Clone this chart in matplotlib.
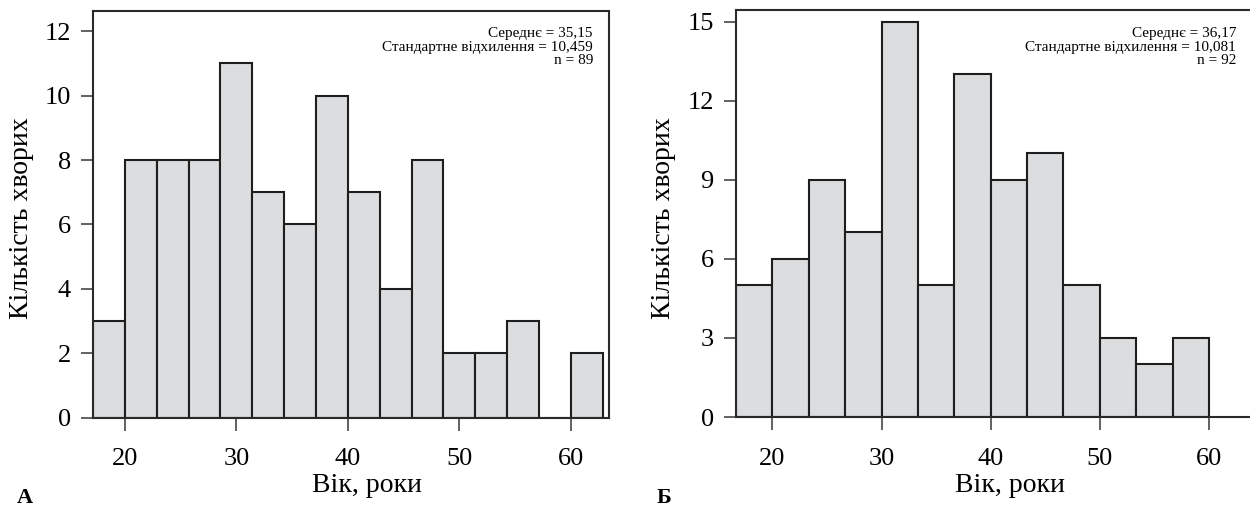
import matplotlib
matplotlib.use("Agg")
import matplotlib.pyplot as plt
import numpy as np

plt.rcParams['font.family'] = ['Liberation Serif', 'DejaVu Serif']

# Data
counts_a = [3, 8, 8, 8, 11, 7, 6, 10, 7, 4, 8, 2, 2, 3, 0, 2]
counts_b = [5, 6, 9, 7, 15, 5, 13, 9, 10, 5, 3, 2, 3]
xticks = [20, 30, 40, 50, 60]
yticks_a = [0, 2, 4, 6, 8, 10, 12]
yticks_b = [0, 3, 6, 9, 12, 15]
stats_a = ["Середнє = 35,15", "Стандартне відхилення = 10,459", "n = 89"]
stats_b = ["Середнє = 36,17", "Стандартне відхилення = 10,081", "n = 92"]
xlabel = "Вік, роки"
ylabel = "Кількість хворих"
panel_labels = ["А", "Б"]

# Bin geometry
start_a, width_a = 20 - 20 / 7, 20 / 7
start_b, width_b = 20 - 10 / 3, 10 / 3

W, H = 1250, 508
fig = plt.figure(figsize=(W / 100, H / 100), dpi=100)

def frac_rect(l, r, t, b):
    return [l / W, (H - b) / H, (r - l) / W, (b - t) / H]

ax_a = fig.add_axes(frac_rect(93, 609, 11, 417.7))
ax_b = fig.add_axes(frac_rect(736, 1250, 10.3, 417))

fill = '#dcdddf'
edge = '#1e1e1e'

def draw(ax, counts, start, width, xlim, ylim, yticks, hide_right):
    lefts = start + width * np.arange(len(counts))
    ax.bar(lefts, counts, width=width, align='edge', color=fill,
           edgecolor=edge, linewidth=1.5, zorder=2)
    ax.set_xlim(*xlim)
    ax.set_ylim(*ylim)
    ax.set_xticks(xticks)
    ax.set_yticks(yticks)
    for s in ax.spines.values():
        s.set_linewidth(1.5)
        s.set_color('#2a2a2a')
    if hide_right:
        ax.spines['right'].set_visible(False)
    ax.spines['bottom'].set_zorder(3)
    ax.tick_params(axis='x', direction='out', length=9, width=1.3,
                   color='#555555', pad=13, labelsize=19)
    ax.tick_params(axis='y', direction='out', length=9, width=1.3,
                   color='#555555', pad=7, labelsize=19)

draw(ax_a, counts_a, start_a, width_a, (start_a, 63.42), (0, 12.63), yticks_a, False)
draw(ax_b, counts_b, start_b, width_b, (start_b, 63.76), (0, 15.43), yticks_b, True)

def ftext(x, y, s, **kw):
    fig.text(x / W, (H - y) / H, s, **kw)

# ylabels
ftext(22, 218, ylabel, rotation=90, ha='center', va='center', fontsize=20)
ftext(663, 218, ylabel, rotation=90, ha='center', va='center', fontsize=20)
# xlabels
ftext(367, 485, xlabel, ha='center', va='center', fontsize=20)
ftext(1010, 485, xlabel, ha='center', va='center', fontsize=20)
# panel labels
ftext(17, 503, panel_labels[0], ha='left', va='baseline', fontsize=16, fontweight='bold')
ftext(657, 503, panel_labels[1], ha='left', va='baseline', fontsize=16, fontweight='bold')

# stats text
for i, line in enumerate(stats_a):
    ftext(593, 37 + 13.5 * i, line, ha='right', va='baseline', fontsize=11)
for i, line in enumerate(stats_b):
    ftext(1236, 37 + 13.5 * i, line, ha='right', va='baseline', fontsize=11)

fig.savefig('out.png', dpi=100)
